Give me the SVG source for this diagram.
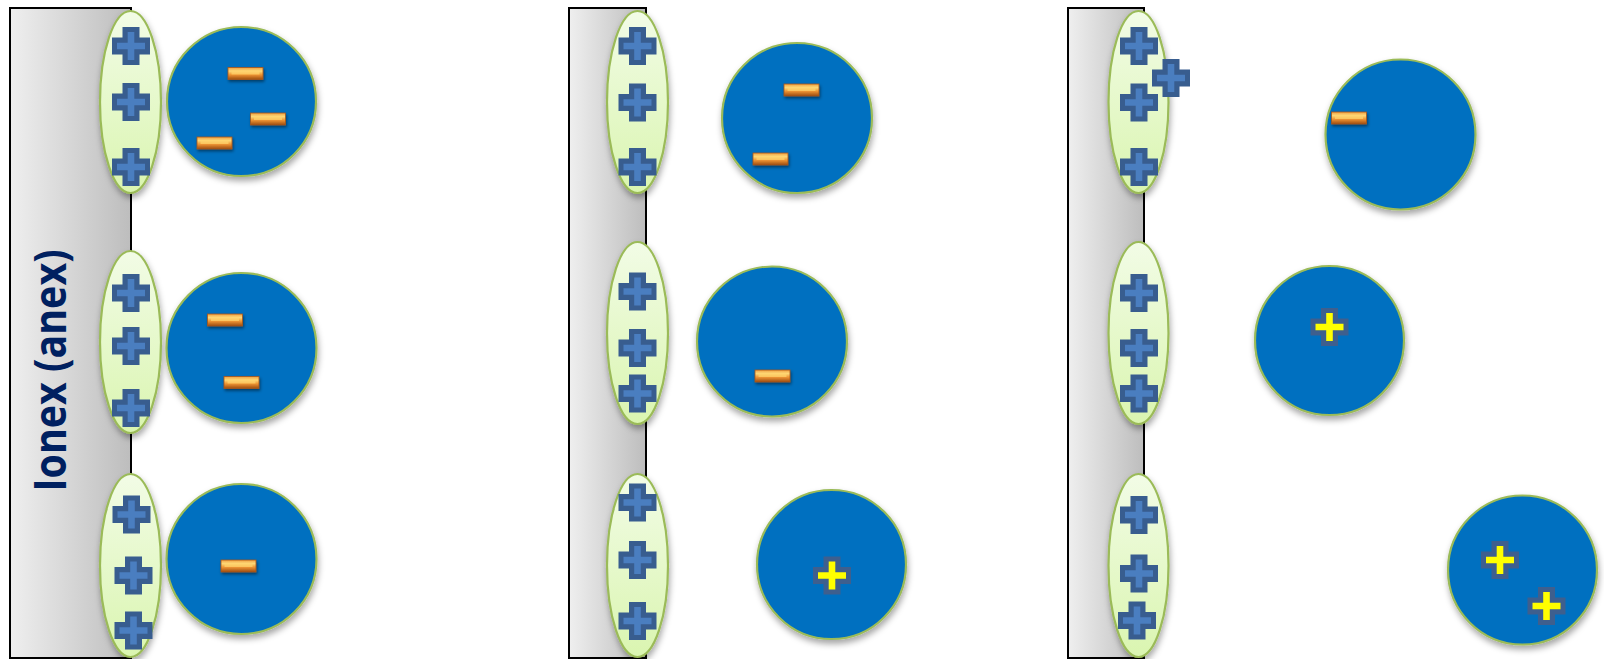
<svg xmlns="http://www.w3.org/2000/svg" xmlns:xlink="http://www.w3.org/1999/xlink" width="1604" height="659" viewBox="0 0 1604 659">
<style>
.wall{fill:url(#wallGrad);stroke:#000;stroke-width:2}
.shell{fill:url(#shellGrad);stroke:#9BBB59;stroke-width:2.2;filter:url(#shadow)}
.ball{fill:#0070C0;stroke:#9BBB59;stroke-width:2.2;filter:url(#shadow)}
.label{font-family:"Open Sans","Liberation Sans",sans-serif;font-weight:bold;font-size:45px;fill:#002060}
</style>
<defs>
<linearGradient id="wallGrad" x1="0" y1="0" x2="1" y2="0">
<stop offset="0" stop-color="#EFEFEF"/>
<stop offset="1" stop-color="#BDBDBD"/>
</linearGradient>
<linearGradient id="shellGrad" x1="0" y1="0" x2="0" y2="1">
<stop offset="0" stop-color="#F2FCE6"/>
<stop offset="1" stop-color="#DAF5B0"/>
</linearGradient>
<linearGradient id="barGrad" x1="0" y1="0" x2="0" y2="1">
<stop offset="0" stop-color="#F0A040"/>
<stop offset="0.3" stop-color="#FDD878"/>
<stop offset="0.6" stop-color="#EE9432"/>
<stop offset="1" stop-color="#9C4C12"/>
</linearGradient>
<filter id="shadow" x="-20%" y="-20%" width="140%" height="140%">
<feDropShadow dx="1" dy="4" stdDeviation="3" flood-color="#000" flood-opacity="0.35"/>
</filter>
<filter id="barShadow" x="-30%" y="-60%" width="160%" height="220%">
<feDropShadow dx="1" dy="2" stdDeviation="1.5" flood-color="#000" flood-opacity="0.45"/>
</filter>
<g id="ionBlue">
<path d="M-8.5,-19H8.5V-8.5H19V8.5H8.5V19H-8.5V8.5H-19V-8.5H-8.5Z" fill="#385D8F"/>
<path d="M-3.3,-14H3.3V-3.3H14V3.3H3.3V14H-3.3V3.3H-14V-3.3H-3.3Z" fill="#4A7EC0"/>
</g>
<g id="ionYellow">
<path d="M-8.5,-19H8.5V-8.5H19V8.5H8.5V19H-8.5V8.5H-19V-8.5H-8.5Z" fill="#3E5F8E"/>
<path d="M-3.3,-14H3.3V-3.3H14V3.3H3.3V14H-3.3V3.3H-14V-3.3H-3.3Z" fill="#FFFF00"/>
</g>
<g id="minus">
<rect x="-17.5" y="-6" width="35" height="12" fill="url(#barGrad)" stroke="#A8561A" stroke-width="0.8" filter="url(#barShadow)"/>
<rect x="-14" y="-3" width="28" height="4" fill="#FFD46E" opacity="0.7"/>
</g>
</defs>

<g id="panel1">
<rect class="wall" x="10" y="8" width="121" height="650"/>
<text class="label" transform="translate(66,370.5) rotate(-90)" text-anchor="middle" textLength="242" lengthAdjust="spacingAndGlyphs">Ionex (anex)</text>
</g>
<g id="p1-shell1"><ellipse class="shell" cx="130.5" cy="102" rx="30.5" ry="91"/>
<use xlink:href="#ionBlue" x="131" y="46"/><use xlink:href="#ionBlue" x="131" y="102"/><use xlink:href="#ionBlue" x="131" y="167"/></g>
<g id="p1-shell2"><ellipse class="shell" cx="130.5" cy="342" rx="30.5" ry="91"/>
<use xlink:href="#ionBlue" x="131" y="293"/><use xlink:href="#ionBlue" x="131" y="346"/><use xlink:href="#ionBlue" x="131" y="408"/></g>
<g id="p1-shell3"><ellipse class="shell" cx="130.5" cy="565.5" rx="30.5" ry="91.5"/>
<use xlink:href="#ionBlue" x="131.5" y="514.5"/><use xlink:href="#ionBlue" x="133.5" y="575.5"/><use xlink:href="#ionBlue" x="133.5" y="630.5"/></g>
<g id="p1-ball1"><circle class="ball" cx="241.5" cy="101.5" r="74.5"/>
<use xlink:href="#minus" x="245.5" y="73.5"/><use xlink:href="#minus" x="268" y="119"/><use xlink:href="#minus" x="214.5" y="143"/></g>
<g id="p1-ball2"><circle class="ball" cx="241.5" cy="348" r="75"/>
<use xlink:href="#minus" x="225" y="320"/><use xlink:href="#minus" x="241.5" y="382.5"/></g>
<g id="p1-ball3"><circle class="ball" cx="241.5" cy="559" r="75"/>
<use xlink:href="#minus" x="238.5" y="566"/></g>

<g id="panel2"><rect class="wall" x="569" y="8" width="77" height="650"/></g>
<g id="p2-shell1"><ellipse class="shell" cx="637.5" cy="102" rx="30.5" ry="91"/>
<use xlink:href="#ionBlue" x="637.5" y="46"/><use xlink:href="#ionBlue" x="637.5" y="102.5"/><use xlink:href="#ionBlue" x="637.5" y="167"/></g>
<g id="p2-shell2"><ellipse class="shell" cx="637.5" cy="333" rx="30.5" ry="91"/>
<use xlink:href="#ionBlue" x="637.5" y="291.5"/><use xlink:href="#ionBlue" x="637.5" y="348"/><use xlink:href="#ionBlue" x="637.5" y="393.5"/></g>
<g id="p2-shell3"><ellipse class="shell" cx="637.5" cy="565.5" rx="30.5" ry="91.5"/>
<use xlink:href="#ionBlue" x="637.5" y="502.5"/><use xlink:href="#ionBlue" x="637.5" y="560"/><use xlink:href="#ionBlue" x="637.5" y="621"/></g>
<g id="p2-ball1"><circle class="ball" cx="797" cy="118" r="75"/>
<use xlink:href="#minus" x="801.5" y="90"/><use xlink:href="#minus" x="770.5" y="159"/></g>
<g id="p2-ball2"><circle class="ball" cx="772" cy="341.5" r="75"/>
<use xlink:href="#minus" x="772.5" y="376"/></g>
<g id="p2-ball3"><circle class="ball" cx="831.5" cy="564.5" r="74.5"/>
<use xlink:href="#ionYellow" x="832" y="575.5"/></g>

<g id="panel3"><rect class="wall" x="1068" y="8" width="76" height="650"/></g>
<g id="p3-shell1"><ellipse class="shell" cx="1138.5" cy="102" rx="30" ry="91"/>
<use xlink:href="#ionBlue" x="1139" y="46"/><use xlink:href="#ionBlue" x="1139" y="102.5"/><use xlink:href="#ionBlue" x="1139" y="167"/></g>
<g id="p3-freeion"><use xlink:href="#ionBlue" x="1171" y="78"/></g>
<g id="p3-shell2"><ellipse class="shell" cx="1138.5" cy="333" rx="30" ry="91"/>
<use xlink:href="#ionBlue" x="1139" y="293"/><use xlink:href="#ionBlue" x="1139" y="348"/><use xlink:href="#ionBlue" x="1139" y="393.5"/></g>
<g id="p3-shell3"><ellipse class="shell" cx="1138.5" cy="565.5" rx="30" ry="91.5"/>
<use xlink:href="#ionBlue" x="1139" y="515"/><use xlink:href="#ionBlue" x="1139" y="573.5"/><use xlink:href="#ionBlue" x="1137" y="620.5"/></g>
<g id="p3-ball1"><circle class="ball" cx="1400.5" cy="134.5" r="75"/>
<use xlink:href="#minus" x="1349" y="118"/></g>
<g id="p3-ball2"><circle class="ball" cx="1329.5" cy="340.5" r="74.5"/>
<use xlink:href="#ionYellow" x="1329.5" y="327"/></g>
<g id="p3-ball3"><circle class="ball" cx="1522.5" cy="570" r="74.5"/>
<use xlink:href="#ionYellow" x="1500" y="560"/><use xlink:href="#ionYellow" x="1546.5" y="606"/></g>
<g id="connectors"/>
</svg>
